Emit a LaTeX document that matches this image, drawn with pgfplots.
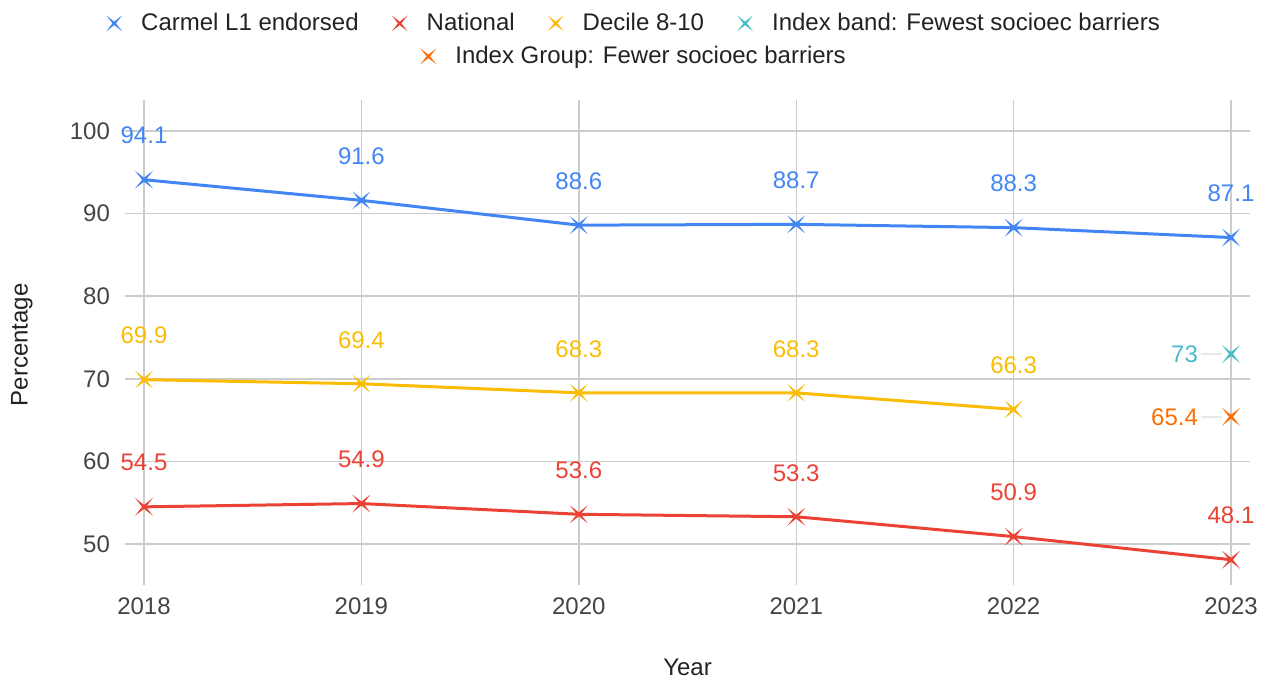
\documentclass[border=0pt]{standalone}
\usepackage{fontspec}
\setmainfont{Liberation Sans}
\usepackage{pgfplots}
\pgfplotsset{compat=1.18}
\definecolor{cblue}{HTML}{4285F4}
\definecolor{cred}{HTML}{EA4335}
\definecolor{cyellow}{HTML}{FBBC04}
\definecolor{cteal}{HTML}{46BDC6}
\definecolor{corange}{HTML}{FF6D01}
\definecolor{gridc}{HTML}{CCCCCC}
\definecolor{txt}{HTML}{444444}
\definecolor{dtxt}{HTML}{222222}

\pgfdeclareplotmark{xstar}{%
  \pgfpathmoveto{\pgfqpoint{\pgfplotmarksize}{\pgfplotmarksize}}%
  \pgfpathlineto{\pgfqpoint{0pt}{0.22\pgfplotmarksize}}%
  \pgfpathlineto{\pgfqpoint{-\pgfplotmarksize}{\pgfplotmarksize}}%
  \pgfpathlineto{\pgfqpoint{-0.22\pgfplotmarksize}{0pt}}%
  \pgfpathlineto{\pgfqpoint{-\pgfplotmarksize}{-\pgfplotmarksize}}%
  \pgfpathlineto{\pgfqpoint{0pt}{-0.22\pgfplotmarksize}}%
  \pgfpathlineto{\pgfqpoint{\pgfplotmarksize}{-\pgfplotmarksize}}%
  \pgfpathlineto{\pgfqpoint{0.22\pgfplotmarksize}{0pt}}%
  \pgfpathclose
  \pgfusepathqfill}

\pgfplotsset{
  /pgf/number format/assume math mode=true,
  base/.style={
    scale only axis, width=562.5pt, height=242.5pt,
    at={(62.5pt,47.5pt)}, anchor=south west,
    xmin=2017.9126, xmax=2023.0874, ymin=45.04, ymax=103.75,
  },
  lbl/.style={nodes near coords, every node near coord/.append style={font=\fontsize{12}{14}\selectfont, text=#1, anchor=center, yshift=22pt}},
  legimg/.style={legend image code/.code={\path[draw=none,fill=none] (0pt,0pt) (17.5pt,0pt); \draw[##1] plot coordinates {(6pt,0pt)};}},
}

\begin{document}
\begin{tikzpicture}
\path[use as bounding box] (0,0) rectangle (635pt,340pt);
\begin{axis}[base,
  axis line style={draw=none}, major tick style={draw=none},
  grid=major, grid style={gridc, line width=0.7pt},
  xtick={2018,2019,2020,2021,2022,2023},
  xticklabels={2018,2019,2020,2021,2022,2023},
  ytick={50,60,70,80,90,100},
  yticklabels={50,60,70,80,90,100},
  tick label style={font=\fontsize{12}{14}\selectfont, text=txt},
  xticklabel style={yshift=-3pt},
  yticklabel style={xshift=-4pt},
  xlabel={Year}, ylabel={Percentage},
  label style={font=\fontsize{12}{14}\selectfont, text=dtxt},
  xlabel style={at={(axis description cs:0.5,0)}, anchor=center, yshift=-41pt},
  ylabel style={at={(axis description cs:-0.0916,0.495)}, anchor=center},
  legend style={at={(0.4516,1.158)}, anchor=center, draw=none, fill=none,
    font=\fontsize{12}{14}\selectfont, text=dtxt,
    /tikz/every even column/.append style={column sep=12.5pt}},
  legend columns=4, legimg,
  mark size=4.5pt,
]
\addlegendimage{mark=xstar, color=cblue, mark size=4pt}
\addlegendimage{mark=xstar, color=cred, mark size=4pt}
\addlegendimage{mark=xstar, color=cyellow, mark size=4pt}
\addlegendimage{mark=xstar, color=cteal, mark size=4pt}
\legend{Carmel L1 endorsed, National, Decile 8-10, Index band: Fewest socioec barriers}

\draw[gridc!45, line width=0.7pt] (axis cs:2022.862,73) -- (axis cs:2022.958,73);
\draw[gridc!45, line width=0.7pt] (axis cs:2022.862,65.4) -- (axis cs:2022.958,65.4);

\addplot[forget plot, color=cblue, line width=1.5pt, mark=xstar, lbl=cblue] coordinates {
(2018,94.1) (2019,91.6) (2020,88.6) (2021,88.7) (2022,88.3) (2023,87.1)};
\addplot[forget plot, color=cyellow, line width=1.5pt, mark=xstar, lbl=cyellow] coordinates {
(2018,69.9) (2019,69.4) (2020,68.3) (2021,68.3) (2022,66.3)};
\addplot[forget plot, color=cred, line width=1.5pt, mark=xstar, lbl=cred] coordinates {
(2018,54.5) (2019,54.9) (2020,53.6) (2021,53.3) (2022,50.9) (2023,48.1)};
\addplot[forget plot, color=cteal, only marks, mark=xstar, nodes near coords,
  every node near coord/.append style={font=\fontsize{12}{14}\selectfont, text=cteal, anchor=east, xshift=-13pt, yshift=0pt}] coordinates {(2023,73)};
\addplot[forget plot, color=corange, only marks, mark=xstar, nodes near coords,
  every node near coord/.append style={font=\fontsize{12}{14}\selectfont, text=corange, anchor=east, xshift=-13pt, yshift=0pt}] coordinates {(2023,65.4)};
\end{axis}
\begin{axis}[base, hide axis, legimg,
  legend style={at={(0.4516,1.09)}, anchor=center, draw=none, fill=none,
    font=\fontsize{12}{14}\selectfont, text=dtxt},
]
\addlegendimage{mark=xstar, color=corange, mark size=4pt}
\legend{Index Group: Fewer socioec barriers}
\end{axis}
\end{tikzpicture}
\end{document}
